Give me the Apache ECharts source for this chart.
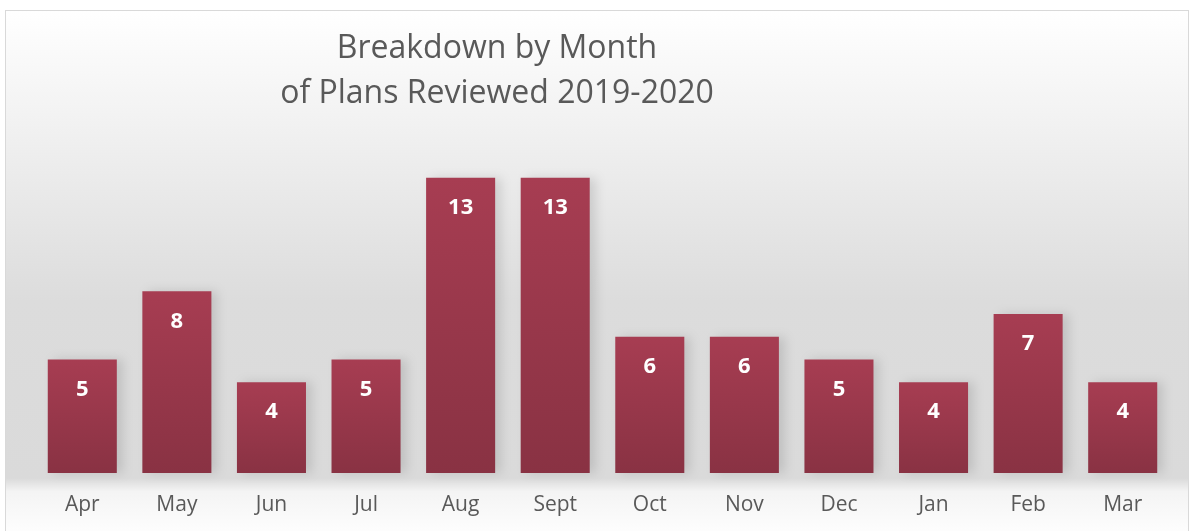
<!DOCTYPE html>
<html>
<head>
<meta charset="utf-8">
<script src="https://cdn.jsdelivr.net/npm/echarts@6/dist/echarts.min.js"></script>
<style>
  html, body { margin: 0; padding: 0; background: #fff; }
  .frame {
    position: absolute;
    left: 5px; top: 10px;
    width: 1184px; height: 530px;
    border: 1px solid #d9d9d9;
    box-sizing: border-box;
  }
  #chart { width: 100%; height: 100%; }
</style>
</head>
<body>
<div class="frame"><div id="chart"></div></div>
<script>
const months = ["Apr", "May", "Jun", "Jul", "Aug", "Sept", "Oct", "Nov", "Dec", "Jan", "Feb", "Mar"];
const plans = [5, 8, 4, 5, 13, 13, 6, 6, 5, 4, 7, 4];

let myChart = echarts.init(document.getElementById("chart"));
let option = {
  animation: false,
  //背景渐变
  backgroundColor: new echarts.graphic.LinearGradient(0, 0, 0, 1, [
    { offset: 0, color: "#ffffff" },
    { offset: 0.55, color: "#dcdcdc" },
    { offset: 0.885, color: "#dadada" },
    { offset: 0.91, color: "#f4f4f4" },
    { offset: 1, color: "#ffffff" },
  ]),
  title: {
    text: "Breakdown by Month\nof Plans Reviewed 2019-2020",
    left: 486,
    top: 10,
    textAlign: "center",
    textStyle: {
      color: "#595959",
      fontFamily: "Open Sans",
      fontWeight: "normal",
      fontSize: 32,
      lineHeight: 45,
    },
  },
  grid: {
    left: 29,
    right: 18,
    top: 144,
    bottom: 66,
    containLabel: false,
  },
  xAxis: {
    type: "category",
    data: months,
    axisLine: { show: false },
    axisTick: { show: false },
    axisLabel: {
      color: "#595959",
      fontFamily: "Open Sans",
      fontSize: 21,
      margin: 22,
    },
  },
  yAxis: {
    type: "value",
    min: 0,
    max: 14,
    show: false,
    splitLine: { show: false },
  },
  series: [
    {
      type: "bar",
      data: plans,
      barWidth: "73%",
      itemStyle: {
        color: new echarts.graphic.LinearGradient(0, 0, 0, 1, [
          { offset: 0, color: "#a73d52" },
          { offset: 1, color: "#893243" },
        ]),
        shadowColor: "rgba(0,0,0,0.12)",
        shadowBlur: 10,
        shadowOffsetX: 6,
      },
      label: {
        show: true,
        position: "insideTop",
        distance: 19,
        color: "#fff",
        fontFamily: "Open Sans",
        fontWeight: "bold",
        fontSize: 22,
      },
    },
  ],
};
myChart.setOption(option);
</script>
</body>
</html>
